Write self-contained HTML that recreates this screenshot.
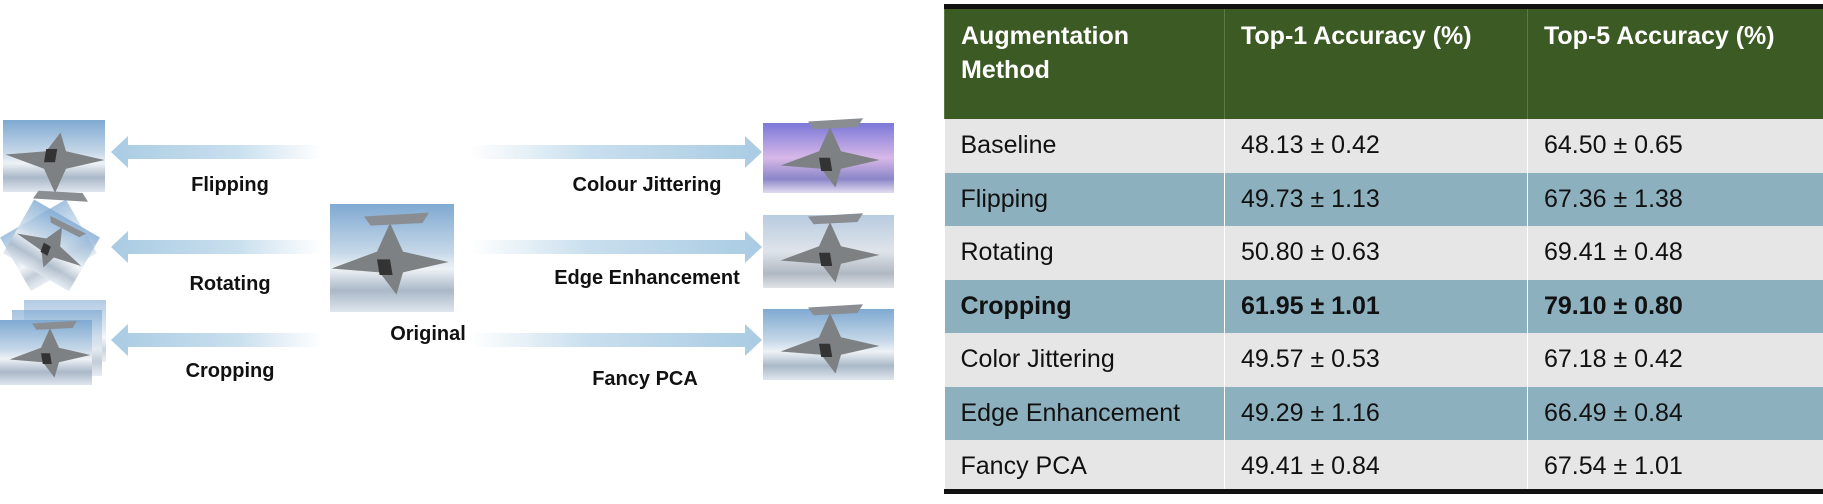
<!DOCTYPE html>
<html><head><meta charset="utf-8"><style>
body{margin:0;width:1823px;height:504px;background:#fff;position:relative;overflow:hidden;font-family:"Liberation Sans",sans-serif}
svg{position:absolute;left:0;top:0}
.t{position:absolute;left:944px;top:5px;width:879px;border-collapse:collapse;font-family:"Liberation Sans",sans-serif;font-size:25px;color:#111}
table{border-collapse:collapse}
td{padding:0 0 0 16px;vertical-align:middle;height:53.5px;border-left:1px solid #fff}
td:first-child{border-left:none}
tr.h td{background:#3b5a24;color:#fff;font-weight:bold;height:100px;vertical-align:top;padding-top:10px;line-height:34px;border-left:1px solid #5b7a44}
.l td{background:#e6e6e6}
.b td{background:#8db0bf}
.tb{position:absolute;left:944px;width:879px;background:#111}
</style></head><body>
<svg width="940" height="504" viewBox="0 0 940 504">
<defs>
<linearGradient id="img" x1="0" y1="0" x2="0" y2="1"><stop offset="0" stop-color="#7fa9d2"/><stop offset="0.45" stop-color="#c6d8e8"/><stop offset="0.6" stop-color="#eef2f6"/><stop offset="0.8" stop-color="#aab8c8"/><stop offset="1" stop-color="#dfe6ee"/></linearGradient>
<linearGradient id="pur" x1="0" y1="0" x2="0" y2="1"><stop offset="0" stop-color="#7b78d8"/><stop offset="0.5" stop-color="#d8b8e8"/><stop offset="0.8" stop-color="#8a86c8"/><stop offset="1" stop-color="#e4dcf0"/></linearGradient>
<linearGradient id="gry" x1="0" y1="0" x2="0" y2="1"><stop offset="0" stop-color="#b8cbe0"/><stop offset="0.5" stop-color="#dfe4ea"/><stop offset="0.8" stop-color="#b0b8c2"/><stop offset="1" stop-color="#e0e4e8"/></linearGradient>
<linearGradient id="al" x1="0" x2="1"><stop offset="0" stop-color="#a9cbe3"/><stop offset="0.6" stop-color="#c9dfee"/><stop offset="1" stop-color="#fff"/></linearGradient>
<linearGradient id="ar" x1="1" x2="0"><stop offset="0" stop-color="#a9cbe3"/><stop offset="0.6" stop-color="#c9dfee"/><stop offset="1" stop-color="#fff"/></linearGradient>
<g id="plane"><polygon points="-45,5 -10,-8 0,-30 10,-8 45,0 10,8 5,25 -8,8" fill="#7d8184"/><polygon points="-10,-2 0,-2 2,10 -8,10" fill="#333"/><polygon points="-20,-35 30,-38 25,-30 -15,-28" fill="#8a8e92"/></g>
</defs>
<rect x="3" y="120" width="102" height="72" fill="url(#img)"/><use href="#plane" transform="translate(55,160) scale(1,-1) scale(1.1)"/>
<g transform="translate(50,248) rotate(-30)"><rect x="-38" y="-34" width="76" height="62" fill="url(#img)" opacity="0.7"/></g>
<g transform="translate(50,248) rotate(30)"><rect x="-38" y="-34" width="76" height="62" fill="url(#img)" opacity="0.8"/><use href="#plane" transform="scale(0.8)"/></g>
<rect x="24" y="300" width="82" height="62" fill="url(#img)" opacity="0.6"/>
<rect x="12" y="310" width="90" height="66" fill="url(#img)" opacity="0.7"/>
<rect x="0" y="320" width="92" height="65" fill="url(#img)"/><use href="#plane" transform="translate(50,355) scale(0.9)"/>
<g fill="url(#al)"><polygon points="111,152 128,136 128,145 322,145 322,159 128,159 128,168"/>
<polygon points="111,247 128,231 128,240 322,240 322,254 128,254 128,263"/>
<polygon points="111,340 128,324 128,333 322,333 322,347 128,347 128,356"/></g>
<g fill="url(#ar)"><polygon points="762,152 745,136 745,145 470,145 470,159 745,159 745,168"/>
<polygon points="762,247 745,231 745,240 470,240 470,254 745,254 745,263"/>
<polygon points="762,340 745,324 745,333 470,333 470,347 745,347 745,356"/></g>
<rect x="330" y="204" width="124" height="108" fill="url(#img)"/><use href="#plane" transform="translate(390,262) scale(1.3)"/>
<rect x="763" y="123" width="131" height="70" fill="url(#pur)"/><use href="#plane" transform="translate(830,160) scale(1.1)"/>
<rect x="763" y="215" width="131" height="73" fill="url(#gry)"/><use href="#plane" transform="translate(830,255) scale(1.1)"/>
<rect x="763" y="309" width="131" height="71" fill="url(#img)"/><use href="#plane" transform="translate(830,346) scale(1.1)"/>
<g font-family="Liberation Sans, sans-serif" font-weight="bold" font-size="20" fill="#111" text-anchor="middle">
<text x="230" y="191">Flipping</text><text x="230" y="290">Rotating</text><text x="230" y="377">Cropping</text>
<text x="428" y="340">Original</text>
<text x="647" y="191">Colour Jittering</text><text x="647" y="284">Edge Enhancement</text><text x="645" y="385">Fancy PCA</text>
</g>
</svg>
<div class="tb" style="top:4px;height:5px"></div>
<table class="t" style="top:9px">
<colgroup><col style="width:280px"><col style="width:303px"><col></colgroup>
<tr class="h"><td>Augmentation<br>Method</td><td>Top-1 Accuracy (%)</td><td>Top-5 Accuracy (%)</td></tr>
<tr class="l"><td>Baseline</td><td>48.13 ± 0.42</td><td>64.50 ± 0.65</td></tr>
<tr class="b"><td>Flipping</td><td>49.73 ± 1.13</td><td>67.36 ± 1.38</td></tr>
<tr class="l"><td>Rotating</td><td>50.80 ± 0.63</td><td>69.41 ± 0.48</td></tr>
<tr class="b" style="font-weight:bold"><td>Cropping</td><td>61.95 ± 1.01</td><td>79.10 ± 0.80</td></tr>
<tr class="l"><td>Color Jittering</td><td>49.57 ± 0.53</td><td>67.18 ± 0.42</td></tr>
<tr class="b"><td>Edge Enhancement</td><td>49.29 ± 1.16</td><td>66.49 ± 0.84</td></tr>
<tr class="l"><td>Fancy PCA</td><td>49.41 ± 0.84</td><td>67.54 ± 1.01</td></tr>
</table>
<div class="tb" style="top:489px;height:5px"></div>
</body></html>
